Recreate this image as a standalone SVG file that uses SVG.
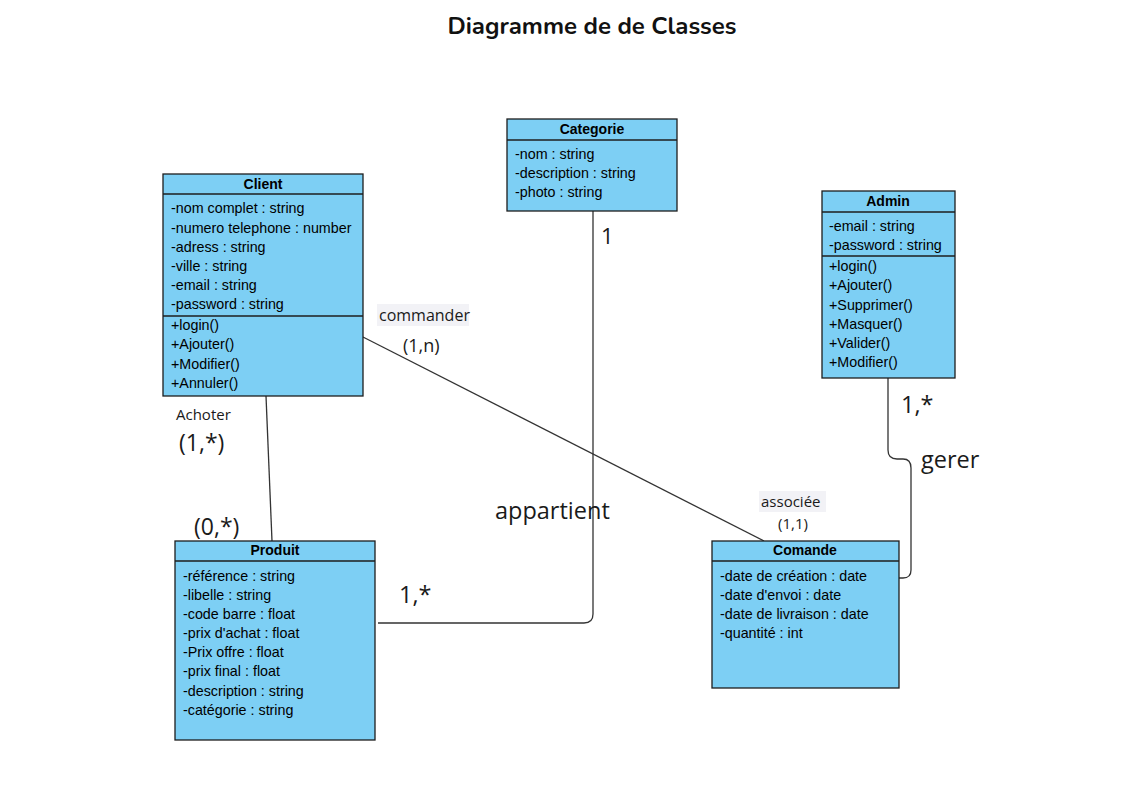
<svg xmlns="http://www.w3.org/2000/svg" width="1127" height="787" viewBox="0 0 1127 787">
<style>
.box{fill:#7dcff4;stroke:#1e1e1e;stroke-width:1.3}
.sep{stroke:#1e1e1e;stroke-width:1.3}
.hd{font-family:"Liberation Sans",Arial,sans-serif;font-size:14px;font-weight:bold;fill:#000;text-anchor:middle}
.at{font-family:"Liberation Sans",Arial,sans-serif;font-size:14.3px;fill:#000}
.con{fill:none;stroke:#333;stroke-width:1.3}
.lb{font-family:"Open Sans","Noto Sans",sans-serif;fill:#1a1a1a}
.lbg{fill:#f2f2f6}
</style>
<rect width="1127" height="787" fill="#fff"/>
<text x="592" y="34" font-family="Nunito,'Open Sans',sans-serif" font-weight="bold" font-size="24" text-anchor="middle" fill="#111">Diagramme de de Classes</text>

<g id="connectors">
<path class="con" d="M266,396 L272,541"/>
<path class="con" d="M363,337 L764,541"/>
<path class="con" d="M593,211 V614 Q593,623 584,623 H378"/>
<path class="con" d="M888,378 V450 Q888,459 897,459 H903 Q911,459 911,468 V570 Q911,578 903,578 H899"/>
</g>

<g id="labels">
<text class="lb" x="601" y="244" font-size="22">1</text>
<rect class="lbg" x="377" y="304" width="92" height="22"/>
<text class="lb" x="379" y="321" font-size="16" fill="#444">commander</text>
<text class="lb" x="403" y="352" font-size="18">(1,n)</text>
<text class="lb" x="176" y="420" font-size="15" fill="#333">Achoter</text>
<text class="lb" x="179" y="451" font-size="23">(1,*)</text>
<text class="lb" x="194" y="535" font-size="23">(0,*)</text>
<text class="lb" x="495" y="519" font-size="23.5">appartient</text>
<text class="lb" x="399" y="603" font-size="23.5">1,*</text>
<rect class="lbg" x="759" y="491" width="67" height="21"/>
<text class="lb" x="761" y="507" font-size="15" fill="#444">associée</text>
<text class="lb" x="778" y="529" font-size="15">(1,1)</text>
<text class="lb" x="901" y="413" font-size="23.5">1,*</text>
<text class="lb" x="921" y="468" font-size="23.5">gerer</text>
</g>

<g id="client">
<rect class="box" x="163" y="174" width="200" height="222"/>
<line class="sep" x1="163" y1="194" x2="363" y2="194"/>
<line class="sep" x1="163" y1="316" x2="363" y2="316"/>
<text class="hd" x="263" y="189">Client</text>
<text class="at" x="171" y="213">-nom complet : string</text>
<text class="at" x="171" y="233">-numero telephone : number</text>
<text class="at" x="171" y="252">-adress : string</text>
<text class="at" x="171" y="271">-ville : string</text>
<text class="at" x="171" y="290">-email : string</text>
<text class="at" x="171" y="309">-password : string</text>
<text class="at" x="171" y="330">+login()</text>
<text class="at" x="171" y="349">+Ajouter()</text>
<text class="at" x="171" y="369">+Modifier()</text>
<text class="at" x="171" y="388">+Annuler()</text>
</g>

<g id="categorie">
<rect class="box" x="507" y="119" width="170" height="92"/>
<line class="sep" x1="507" y1="140" x2="677" y2="140"/>
<text class="hd" x="592" y="134">Categorie</text>
<text class="at" x="515" y="159">-nom : string</text>
<text class="at" x="515" y="178">-description : string</text>
<text class="at" x="515" y="197">-photo : string</text>
</g>

<g id="admin">
<rect class="box" x="822" y="191" width="133" height="187"/>
<line class="sep" x1="822" y1="212" x2="955" y2="212"/>
<line class="sep" x1="822" y1="256" x2="955" y2="256"/>
<text class="hd" x="888" y="206">Admin</text>
<text class="at" x="829" y="231">-email : string</text>
<text class="at" x="829" y="250">-password : string</text>
<text class="at" x="829" y="271">+login()</text>
<text class="at" x="829" y="290">+Ajouter()</text>
<text class="at" x="829" y="310">+Supprimer()</text>
<text class="at" x="829" y="329">+Masquer()</text>
<text class="at" x="829" y="348">+Valider()</text>
<text class="at" x="829" y="367">+Modifier()</text>
</g>

<g id="produit">
<rect class="box" x="175" y="541" width="200" height="199"/>
<line class="sep" x1="175" y1="561" x2="375" y2="561"/>
<text class="hd" x="275" y="555">Produit</text>
<text class="at" x="183" y="581">-référence : string</text>
<text class="at" x="183" y="600">-libelle : string</text>
<text class="at" x="183" y="619">-code barre : float</text>
<text class="at" x="183" y="638">-prix d'achat : float</text>
<text class="at" x="183" y="657">-Prix offre : float</text>
<text class="at" x="183" y="676">-prix final : float</text>
<text class="at" x="183" y="696">-description : string</text>
<text class="at" x="183" y="715">-catégorie : string</text>
</g>

<g id="comande">
<rect class="box" x="712" y="541" width="187" height="147"/>
<line class="sep" x1="712" y1="561" x2="899" y2="561"/>
<text class="hd" x="805" y="555">Comande</text>
<text class="at" x="720" y="581">-date de création : date</text>
<text class="at" x="720" y="600">-date d'envoi : date</text>
<text class="at" x="720" y="619">-date de livraison : date</text>
<text class="at" x="720" y="638">-quantité : int</text>
</g>
</svg>
